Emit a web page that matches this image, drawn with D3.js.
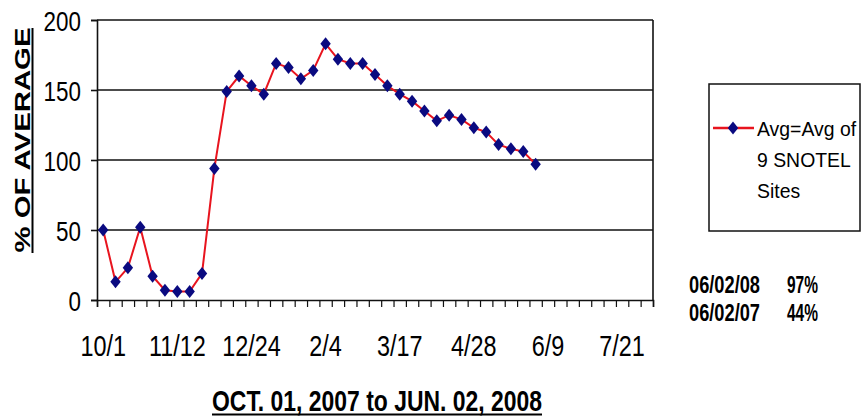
<!DOCTYPE html>
<html>
<head>
<meta charset="utf-8">
<script src="https://cdn.jsdelivr.net/npm/d3@7"></script>
<style>
  body { margin: 0; background: #fff; }
  svg { display: block; }
  text { font-family: "Liberation Sans", Arial, sans-serif; fill: #000; }
</style>
</head>
<body>
<div id="chart"></div>
<script>
// weekly % of average, 10/1/2007 .. 6/2/2008
var pctValues = [50, 13, 23, 52, 17, 7, 6, 6, 19, 94, 149, 160, 153, 147, 169, 166, 158, 164,
  183, 172, 169, 169, 161, 153, 147, 142, 135, 128, 132, 129, 123, 120, 111, 108, 106, 97];
var tickLabels = ["10/1", "11/12", "12/24", "2/4", "3/17", "4/28", "6/9", "7/21"];
var yTicks = [0, 50, 100, 150, 200];
var seriesName = ["Avg=Avg of", "9 SNOTEL", "Sites"];
var notes = [["06/02/08", "97%"], ["06/02/07", "44%"]];
var xTitle = "OCT. 01, 2007 to JUN. 02, 2008";
var yTitle = "% OF AVERAGE";

var W = 865, H = 417;
var plot = { left: 97, right: 653, top: 20, bottom: 300 };

// week categories on the axis (45 mondays, 10/1 to 8/4)
var fmt = d3.utcFormat("%-m/%-d");
var weeks = d3.utcMonday.range(new Date(Date.UTC(2007, 9, 1)), new Date(Date.UTC(2008, 7, 5)), 1)
  .map(fmt);

var svg = d3.select("#chart").append("svg")
  .attr("width", W)
  .attr("height", H);

var x = d3.scaleBand().domain(weeks).range([plot.left, plot.right]).padding(0);
var xIdx = d3.scaleLinear().domain([0, weeks.length]).range([plot.left, plot.right]);
var y = d3.scaleLinear().domain([0, 200]).range([plot.bottom, plot.top]);

// squeeze text horizontally, the scan is narrow
function condense(sel, f) {
  sel.each(function() {
    var w = this.getComputedTextLength();
    d3.select(this).attr("textLength", w * f).attr("lengthAdjust", "spacingAndGlyphs");
  });
}

// grid lines
svg.append("g")
  .selectAll("line")
  .data(yTicks.slice(1))
  .enter().append("line")
  .attr("x1", plot.left).attr("x2", plot.right)
  .attr("y1", d => y(d)).attr("y2", d => y(d))
  .attr("stroke", "#111").attr("stroke-width", 1.6);

// right border
svg.append("line")
  .attr("x1", plot.right).attr("x2", plot.right)
  .attr("y1", plot.top).attr("y2", plot.bottom)
  .attr("stroke", "#111").attr("stroke-width", 1.6);

// y axis
var yAxis = svg.append("g")
  .attr("transform", "translate(" + plot.left + ",0)")
  .call(d3.axisLeft(y).tickValues(yTicks).tickSize(6).tickPadding(10));
yAxis.select(".domain").attr("stroke", "#111").attr("stroke-width", 1.6);
yAxis.selectAll(".tick line").attr("stroke", "#111").attr("stroke-width", 1.6);
yAxis.selectAll(".tick text")
  .attr("font-size", 28).attr("font-family", "Liberation Sans").attr("dy", "0.36em")
  .call(condense, 0.8);

// minor week ticks
var xMinor = svg.append("g")
  .attr("transform", "translate(0," + plot.bottom + ")")
  .call(d3.axisBottom(xIdx).tickValues(d3.range(weeks.length + 1)).tickSize(7).tickFormat(""));
xMinor.select(".domain").attr("stroke", "#111").attr("stroke-width", 1.6);
xMinor.selectAll(".tick line").attr("stroke", "#111").attr("stroke-width", 1.2);

// x labels
var xAxis = svg.append("g")
  .attr("transform", "translate(0," + plot.bottom + ")")
  .call(d3.axisBottom(x).tickValues(tickLabels).tickSize(0).tickPadding(45));
xAxis.select(".domain").remove();
xAxis.selectAll(".tick text")
  .attr("font-size", 30).attr("font-family", "Liberation Sans").attr("dy", "0.36em")
  .call(condense, 0.78);

// series
var line = d3.line()
  .x((d, i) => x(weeks[i]) + x.bandwidth() / 2)
  .y(d => y(d));

svg.append("path")
  .datum(pctValues)
  .attr("d", line)
  .attr("fill", "none")
  .attr("stroke", "#e8141e")
  .attr("stroke-width", 2);

var diamond = "M0,-6.5L5.2,0L0,6.5L-5.2,0Z";
svg.append("g")
  .selectAll("path")
  .data(pctValues)
  .enter().append("path")
  .attr("d", diamond)
  .attr("transform", (d, i) => "translate(" + (x(weeks[i]) + x.bandwidth() / 2) + "," + y(d) + ")")
  .attr("fill", "#0a0a80");

// y title
svg.append("text")
  .attr("transform", "translate(30,140) rotate(-90)")
  .attr("text-anchor", "middle")
  .attr("font-size", 22).attr("font-weight", "bold")
  .attr("textLength", 225).attr("lengthAdjust", "spacingAndGlyphs")
  .text(yTitle);
svg.append("line")
  .attr("x1", 32.5).attr("x2", 32.5).attr("y1", 28).attr("y2", 253)
  .attr("stroke", "#000").attr("stroke-width", 2);

// x title
svg.append("text")
  .attr("x", 212).attr("y", 411)
  .attr("font-size", 30).attr("font-weight", "bold")
  .attr("textLength", 330).attr("lengthAdjust", "spacingAndGlyphs")
  .text(xTitle);
svg.append("line")
  .attr("x1", 212).attr("x2", 542).attr("y1", 414.5).attr("y2", 414.5)
  .attr("stroke", "#000").attr("stroke-width", 2);

// legend
var lg = svg.append("g");
lg.append("rect")
  .attr("x", 709).attr("y", 84).attr("width", 151).attr("height", 147)
  .attr("fill", "#fff").attr("stroke", "#111").attr("stroke-width", 1.5);
lg.append("line")
  .attr("x1", 713).attr("x2", 754).attr("y1", 128).attr("y2", 128)
  .attr("stroke", "#e8141e").attr("stroke-width", 2.5);
lg.append("path")
  .attr("d", diamond)
  .attr("transform", "translate(733,128)")
  .attr("fill", "#0a0a80");
lg.selectAll("text.leg")
  .data(seriesName)
  .enter().append("text")
  .attr("class", "leg")
  .attr("x", 757)
  .attr("y", (d, i) => 136 + i * 31)
  .attr("font-size", 20)
  .text(d => d)
  .call(condense, 0.97);

// date notes
var ng = svg.append("g");
notes.forEach(function(n, i) {
  ng.append("text")
    .attr("x", 689).attr("y", 293 + i * 28)
    .attr("font-size", 24).attr("font-weight", "bold")
    .attr("textLength", 71).attr("lengthAdjust", "spacingAndGlyphs")
    .text(n[0]);
  ng.append("text")
    .attr("x", 787).attr("y", 293 + i * 28)
    .attr("font-size", 24).attr("font-weight", "bold")
    .attr("textLength", 31).attr("lengthAdjust", "spacingAndGlyphs")
    .text(n[1]);
});
</script>
</body>
</html>
